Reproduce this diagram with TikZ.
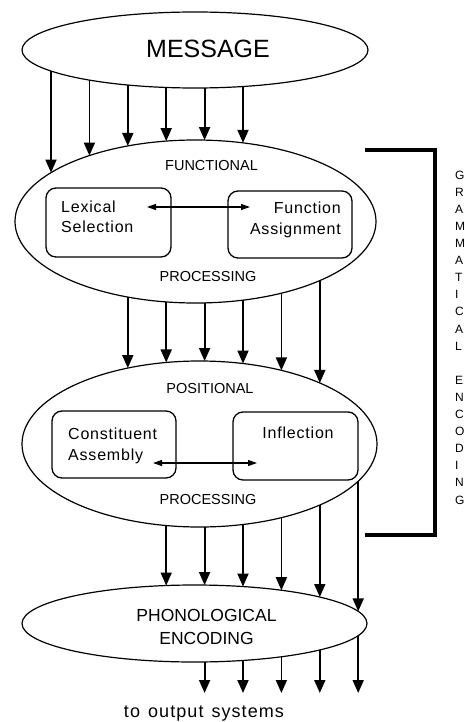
\documentclass[tikz,border=0pt]{standalone}
\usepackage{fontspec}
\setmainfont{Liberation Sans}
\usetikzlibrary{arrows.meta,shapes,calc,positioning}

\tikzset{
  stage/.style={draw, ellipse, line width=1.2pt, inner sep=0pt, outer sep=0pt},
  module/.style={draw, rounded corners=10pt, line width=1.3pt, inner sep=0pt},
  flow/.style={line width=1.8pt, -{Triangle[length=13pt,width=11pt]}},
  swap/.style={line width=1.1pt, {Triangle[length=9pt,width=6pt]}-{Triangle[length=9pt,width=6pt]}},
  bigtxt/.style={inner sep=0pt, font=\fontsize{25}{30}\selectfont},
  headtxt/.style={inner sep=0pt, font=\fontsize{14.5}{17}\selectfont},
  modtxt/.style={inner sep=0pt, font=\fontsize{16}{20.5}\selectfont\addfontfeature{LetterSpace=5}},
  phontxt/.style={inner sep=0pt, align=center, font=\fontsize{17.5}{23}\selectfont},
}

% arrow between two stages at height-independent x
\newcommand\feed[3]{%
  \draw[flow] let \p1=(#1.center), \p2=(#1.east), \p3=(#1.south),
                  \p4=(#2.center), \p5=(#2.east), \p6=(#2.north)
    in (#3pt,{(\y1)-((\y1)-(\y3))*sqrt(1-((#3pt-(\x1))/((\x2)-(\x1)))^2)})
    -- (#3pt,{(\y4)+((\y6)-(\y4))*sqrt(1-((#3pt-(\x4))/((\x5)-(\x4)))^2)});}
% arrow leaving the last stage
\newcommand\outfeed[3]{%
  \draw[flow] let \p1=(#1.center), \p2=(#1.east), \p3=(#1.south), \p4=(#3)
    in (#2pt,{(\y1)-((\y1)-(\y3))*sqrt(1-((#2pt-(\x1))/((\x2)-(\x1)))^2)})
    -- (#2pt,\y4);}

\begin{document}
\begin{tikzpicture}[x=1pt, y=-1pt]
    \useasboundingbox (0,0) rectangle (465,722);
    % stages
    \node[stage, minimum width=346pt, minimum height=76pt] (msg) at (195,50) {};
    \node[stage, minimum width=361pt, minimum height=163pt] (fun) at (195.5,221.5) {};
    \node[stage, minimum width=355pt, minimum height=166pt] (pos) at (199.5,444) {};
    \node[stage, minimum width=345pt, minimum height=77pt] (phon) at (194.5,623.5) {};
    \node[bigtxt] (msgtxt) at (208,49) {MESSAGE};
    \node[headtxt] (funtop) at (211.5,166) {FUNCTIONAL};
    \node[headtxt] (funbot) at (208,277) {PROCESSING};
    \node[headtxt] (postop) at (210,389) {POSITIONAL};
    \node[headtxt] (posbot) at (208,500) {PROCESSING};
    \node[phontxt] (phontxt) at (206.5,627.3) {PHONOLOGICAL\\ENCODING};
    % modules
    \node[module, minimum width=125pt, minimum height=69pt] (lexbox) at (108.5,222.5) {};
    \node[module, minimum width=124pt, minimum height=67pt] (funbox) at (290,224.5) {};
    \node[module, minimum width=124pt, minimum height=67pt] (conbox) at (114,444.5) {};
    \node[module, minimum width=125pt, minimum height=68pt] (inflbox) at (295.5,446) {};
    \node[modtxt, align=left, anchor=west] (lextxt) at (61,217) {Lexical\\Selection};
    \node[modtxt, align=right, anchor=east] (funtxt) at (341,219.7) {Function\\Assignment};
    \node[modtxt, align=left, anchor=west] (contxt) at (68,446) {Constituent\\Assembly};
    \node[modtxt] (infltxt) at (298,432.5) {Inflection};
    \draw[swap] ([shift={(38.5,-15.5)}]lexbox.center) -- ([shift={(-40,-17.5)}]funbox.center);
    \draw[swap] ([shift={(39,18.5)}]conbox.center) -- ([shift={(-38.5,17)}]inflbox.center);
    % flows
    \foreach \k [evaluate=\k as \xk using 51+38.4*\k] in {0,...,5} {\feed{msg}{fun}{\xk}}
    \foreach \k [evaluate=\k as \xk using 51+38.4*\k] in {2,...,7} {\feed{fun}{pos}{\xk}}
    \foreach \k [evaluate=\k as \xk using 51+38.4*\k] in {3,...,8} {\feed{pos}{phon}{\xk}}
    \coordinate (outend) at (0,693);
    \foreach \k [evaluate=\k as \xk using 51+38.4*\k] in {4,...,8} {\outfeed{phon}{\xk}{outend}}
    \node[inner sep=0pt, anchor=base, font={\fontsize{18}{22}\selectfont\addfontfeature{LetterSpace=6}}] (outtxt) at (204,717)
      {to\hspace{8pt}output\hspace{8pt}systems};
    % grammatical encoding
    \draw[line width=3.5pt] (365,150) -- (435,150) -- (435,535) -- (365,535);
    \node[inner sep=0pt, align=left, anchor=west, font=\fontsize{12}{17.1}\selectfont] (gram) at (455,337.5)
      {G\\R\\A\\M\\M\\A\\T\\I\\C\\A\\L\\[17.1pt]E\\N\\C\\O\\D\\I\\N\\G};
\end{tikzpicture}
\end{document}
